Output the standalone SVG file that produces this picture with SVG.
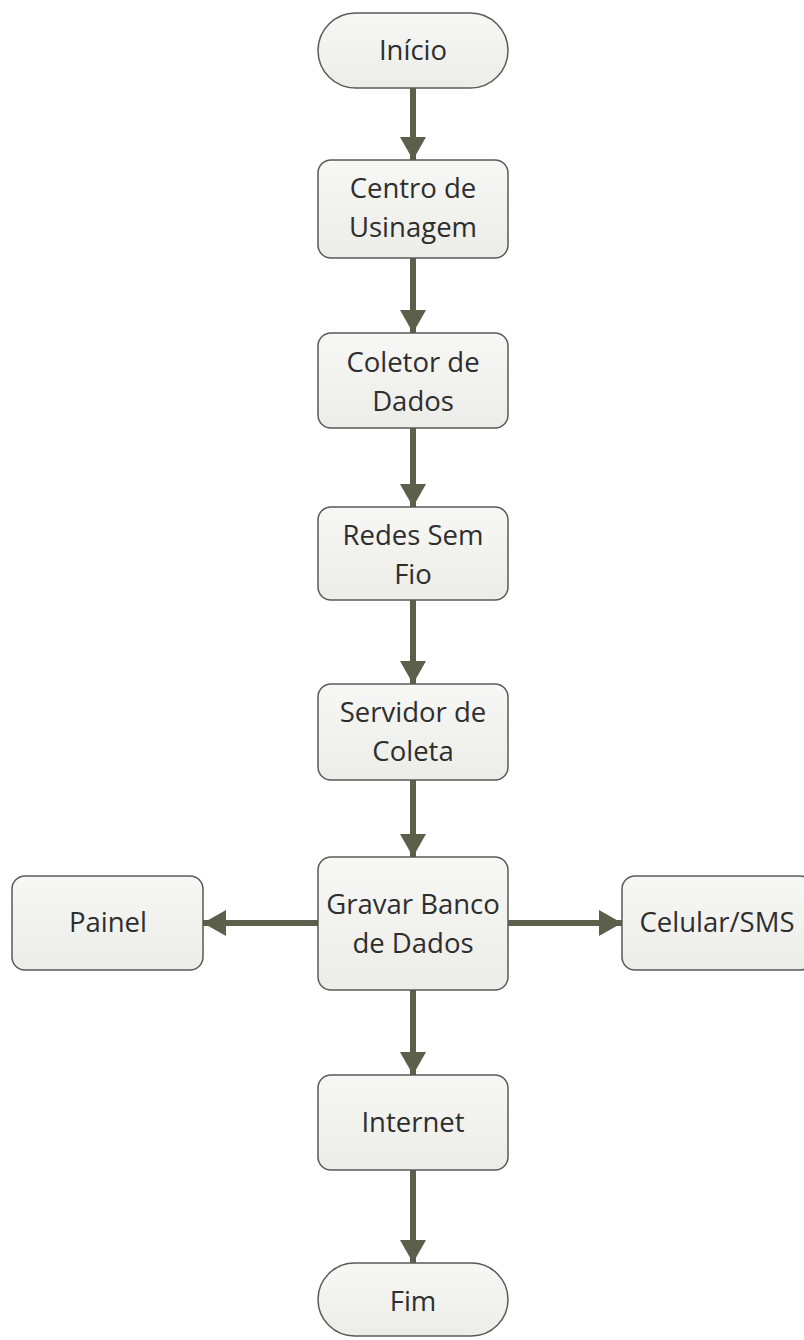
<svg xmlns="http://www.w3.org/2000/svg" width="804" height="1340" viewBox="0 0 804 1340">
<defs>
<linearGradient id="g" x1="0" y1="0" x2="0" y2="1">
<stop offset="0" stop-color="#f7f7f5"/>
<stop offset="1" stop-color="#ecece8"/>
</linearGradient>
<marker id="ah" markerUnits="userSpaceOnUse" markerWidth="24" markerHeight="26" refX="23" refY="13" orient="auto">
<path d="M0,0 L23,13 L0,26 Z" fill="#5c5f4a"/>
</marker>
<style>
.n{fill:url(#g);stroke:#5a5a58;stroke-width:1.5}
.t{font-family:"Open Sans","Liberation Sans",sans-serif;font-size:27.5px;fill:#2e2e2e;text-anchor:middle}
.c{stroke:#5c5f4a;stroke-width:6;fill:none;marker-end:url(#ah)}
</style>
</defs>
<rect width="804" height="1340" fill="#ffffff"/>
<g id="connectors">
<path class="c" d="M413,88 V160"/>
<path class="c" d="M413,258 V333"/>
<path class="c" d="M413,428 V507"/>
<path class="c" d="M413,600 V684"/>
<path class="c" d="M413,780 V857"/>
<path class="c" d="M318,923 H203"/>
<path class="c" d="M508,923 H622"/>
<path class="c" d="M413,990 V1075"/>
<path class="c" d="M413,1170 V1263"/>
</g>
<g id="inicio"><rect class="n" x="318" y="13" width="190" height="75" rx="37.5"/><text class="t" x="413" y="60">Início</text></g>
<g id="centro"><rect class="n" x="318" y="160" width="190" height="98" rx="13"/><text class="t" x="413" y="198">Centro de</text><text class="t" x="413" y="237">Usinagem</text></g>
<g id="coletor"><rect class="n" x="318" y="333" width="190" height="95" rx="13"/><text class="t" x="413" y="372">Coletor de</text><text class="t" x="413" y="411">Dados</text></g>
<g id="redes"><rect class="n" x="318" y="507" width="190" height="93" rx="13"/><text class="t" x="413" y="545">Redes Sem</text><text class="t" x="413" y="584">Fio</text></g>
<g id="servidor"><rect class="n" x="318" y="684" width="190" height="96" rx="13"/><text class="t" x="413" y="722">Servidor de</text><text class="t" x="413" y="761">Coleta</text></g>
<g id="gravar"><rect class="n" x="318" y="857" width="190" height="133" rx="13"/><text class="t" x="413" y="914">Gravar Banco</text><text class="t" x="413" y="953">de Dados</text></g>
<g id="painel"><rect class="n" x="12" y="876" width="191" height="94" rx="13"/><text class="t" x="108" y="932">Painel</text></g>
<g id="celular"><rect class="n" x="622" y="876" width="191" height="94" rx="13"/><text class="t" x="717" y="932">Celular/SMS</text></g>
<g id="internet"><rect class="n" x="318" y="1075" width="190" height="95" rx="13"/><text class="t" x="413" y="1132">Internet</text></g>
<g id="fim"><rect class="n" x="318" y="1263" width="190" height="73" rx="36.5"/><text class="t" x="413" y="1311">Fim</text></g>
</svg>
